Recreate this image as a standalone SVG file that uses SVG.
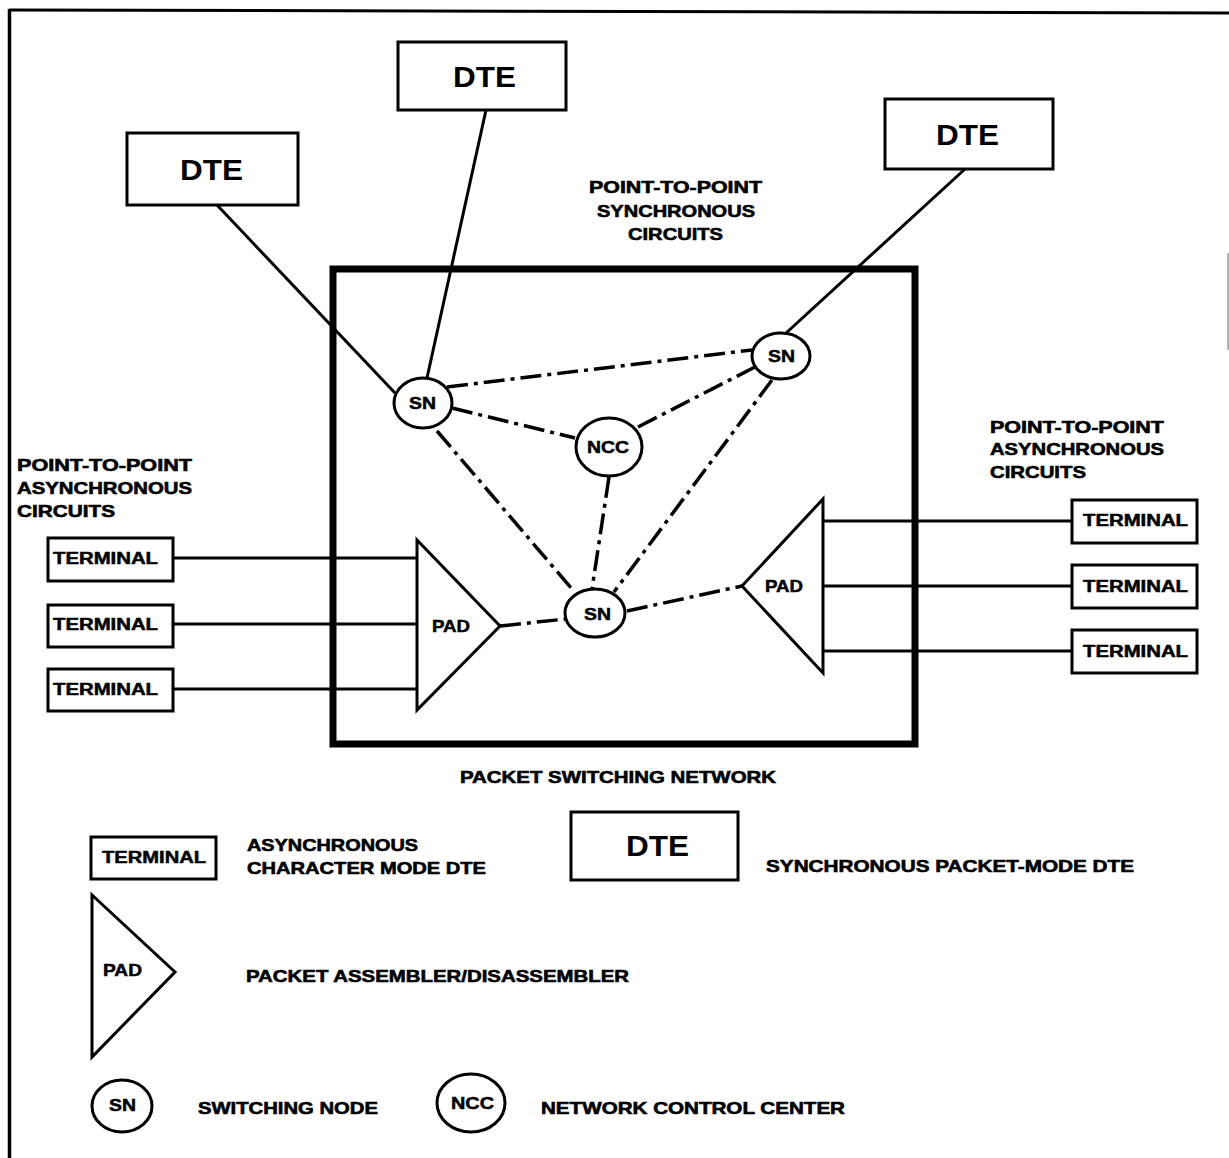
<svg xmlns="http://www.w3.org/2000/svg" width="1229" height="1158" viewBox="0 0 1229 1158">
  <style>
    .box { fill: #fff; stroke: #000; stroke-width: 3; }
    .shape { fill: #fff; stroke: #000; stroke-width: 3; stroke-linejoin: miter; }
    .link { fill: none; stroke: #000; stroke-width: 3; }
    .dash { fill: none; stroke: #000; stroke-width: 3.5; stroke-dasharray: 21 6 4 6; }
    .lbl { font-family: "Liberation Sans", Arial, sans-serif; font-weight: bold; font-size: 17px; fill: #000; stroke: #000; stroke-width: 0.6; }
    .big { font-family: "Liberation Sans", Arial, sans-serif; font-weight: bold; font-size: 29px; fill: #000; }
    .sm { font-family: "Liberation Sans", Arial, sans-serif; font-weight: bold; font-size: 17px; fill: #000; stroke: #000; stroke-width: 0.5; }
    .term { font-family: "Liberation Sans", Arial, sans-serif; font-weight: bold; font-size: 16px; fill: #000; stroke: #000; stroke-width: 0.5; }
  </style>

  <rect x="0" y="0" width="1229" height="1158" fill="#fff"/>

  <!-- page frame -->
  <g id="frame">
    <line x1="9" y1="10" x2="1229" y2="13" stroke="#000" stroke-width="3"/>
    <line x1="9.5" y1="9" x2="9.5" y2="1158" stroke="#000" stroke-width="3.5"/>
    <line x1="1228" y1="253" x2="1228" y2="350" stroke="#999" stroke-width="1.5"/>
  </g>

  <!-- network boundary -->
  <g id="network">
    <rect x="333" y="269" width="582" height="475" fill="none" stroke="#000" stroke-width="7"/>
    <text class="lbl" x="460" y="783" textLength="316" lengthAdjust="spacingAndGlyphs">PACKET  SWITCHING NETWORK</text>
  </g>

  <!-- connectors -->
  <g id="connectors">
    <line class="link" x1="217" y1="205" x2="395" y2="393"/>
    <line class="link" x1="486" y1="110" x2="427" y2="378"/>
    <line class="link" x1="965" y1="169" x2="785" y2="334"/>
    <line class="link" x1="173" y1="558" x2="418" y2="558"/>
    <line class="link" x1="173" y1="624" x2="418" y2="624"/>
    <line class="link" x1="173" y1="689" x2="418" y2="689"/>
    <line class="link" x1="823" y1="521" x2="1072" y2="521"/>
    <line class="link" x1="823" y1="586" x2="1072" y2="586"/>
    <line class="link" x1="823" y1="651" x2="1072" y2="651"/>
    <line class="dash" x1="447" y1="387" x2="752" y2="350"/>
    <line class="dash" x1="452" y1="408" x2="575" y2="438"/>
    <line class="dash" x1="437" y1="431" x2="572" y2="589"/>
    <line class="dash" x1="638" y1="427" x2="757" y2="366"/>
    <line class="dash" x1="609" y1="477" x2="592" y2="589"/>
    <line class="dash" x1="772" y1="380" x2="614" y2="592"/>
    <line class="dash" x1="627" y1="611" x2="742" y2="586"/>
    <line class="dash" x1="500" y1="626" x2="566" y2="619"/>
  </g>

  <!-- free labels -->
  <g id="labels">
    <text class="lbl" x="17" y="471" textLength="175" lengthAdjust="spacingAndGlyphs">POINT-TO-POINT</text>
    <text class="lbl" x="17" y="494" textLength="175" lengthAdjust="spacingAndGlyphs">ASYNCHRONOUS</text>
    <text class="lbl" x="17" y="517" textLength="98" lengthAdjust="spacingAndGlyphs">CIRCUITS</text>
    <text class="lbl" x="990" y="433" textLength="174" lengthAdjust="spacingAndGlyphs">POINT-TO-POINT</text>
    <text class="lbl" x="990" y="455" textLength="174" lengthAdjust="spacingAndGlyphs">ASYNCHRONOUS</text>
    <text class="lbl" x="990" y="478" textLength="96" lengthAdjust="spacingAndGlyphs">CIRCUITS</text>
    <text class="lbl" x="589" y="193" textLength="173" lengthAdjust="spacingAndGlyphs">POINT-TO-POINT</text>
    <text class="lbl" x="597" y="217" textLength="158" lengthAdjust="spacingAndGlyphs">SYNCHRONOUS</text>
    <text class="lbl" x="628" y="240" textLength="95" lengthAdjust="spacingAndGlyphs">CIRCUITS</text>
  </g>

  <!-- DTE hosts -->
  <g id="dte1">
    <rect class="box" x="127" y="133" width="171" height="72"/>
    <text class="big" x="180" y="180" textLength="63" lengthAdjust="spacingAndGlyphs">DTE</text>
  </g>
  <g id="dte2">
    <rect class="box" x="398" y="42" width="168" height="68"/>
    <text class="big" x="453" y="87" textLength="63" lengthAdjust="spacingAndGlyphs">DTE</text>
  </g>
  <g id="dte3">
    <rect class="box" x="885" y="99" width="168" height="70"/>
    <text class="big" x="936" y="145" textLength="63" lengthAdjust="spacingAndGlyphs">DTE</text>
  </g>

  <!-- switching nodes and control center -->
  <g id="sn1">
    <ellipse class="shape" cx="423" cy="403" rx="29" ry="25"/>
    <text class="sm" x="409" y="409" textLength="27" lengthAdjust="spacingAndGlyphs">SN</text>
  </g>
  <g id="sn2">
    <ellipse class="shape" cx="781" cy="356" rx="29" ry="23"/>
    <text class="sm" x="768" y="362" textLength="27" lengthAdjust="spacingAndGlyphs">SN</text>
  </g>
  <g id="sn3">
    <ellipse class="shape" cx="595" cy="613" rx="30" ry="24"/>
    <text class="sm" x="584" y="620" textLength="27" lengthAdjust="spacingAndGlyphs">SN</text>
  </g>
  <g id="ncc">
    <ellipse class="shape" cx="609" cy="447" rx="33" ry="29"/>
    <text class="sm" x="587" y="453" textLength="42" lengthAdjust="spacingAndGlyphs">NCC</text>
  </g>

  <!-- packet assemblers -->
  <g id="pad-left">
    <polygon class="shape" points="417,540 500,626 417,710"/>
    <text class="sm" x="432" y="632" textLength="38" lengthAdjust="spacingAndGlyphs">PAD</text>
  </g>
  <g id="pad-right">
    <polygon class="shape" points="823,499 742,586 823,673"/>
    <text class="sm" x="765" y="592" textLength="38" lengthAdjust="spacingAndGlyphs">PAD</text>
  </g>

  <!-- terminals -->
  <g id="term-l1">
    <rect class="box" x="48" y="538" width="125" height="43"/>
    <text class="term" x="53" y="564" textLength="105" lengthAdjust="spacingAndGlyphs">TERMINAL</text>
  </g>
  <g id="term-l2">
    <rect class="box" x="48" y="605" width="125" height="42"/>
    <text class="term" x="53" y="630" textLength="105" lengthAdjust="spacingAndGlyphs">TERMINAL</text>
  </g>
  <g id="term-l3">
    <rect class="box" x="48" y="669" width="125" height="42"/>
    <text class="term" x="53" y="695" textLength="105" lengthAdjust="spacingAndGlyphs">TERMINAL</text>
  </g>
  <g id="term-r1">
    <rect class="box" x="1072" y="500" width="125" height="43"/>
    <text class="term" x="1083" y="526" textLength="105" lengthAdjust="spacingAndGlyphs">TERMINAL</text>
  </g>
  <g id="term-r2">
    <rect class="box" x="1072" y="565" width="125" height="43"/>
    <text class="term" x="1083" y="592" textLength="105" lengthAdjust="spacingAndGlyphs">TERMINAL</text>
  </g>
  <g id="term-r3">
    <rect class="box" x="1072" y="630" width="125" height="43"/>
    <text class="term" x="1083" y="657" textLength="105" lengthAdjust="spacingAndGlyphs">TERMINAL</text>
  </g>

  <!-- key -->
  <g id="legend">
    <rect class="box" x="91" y="837" width="125" height="42"/>
    <text class="term" x="102" y="863" textLength="104" lengthAdjust="spacingAndGlyphs">TERMINAL</text>
    <text class="lbl" x="247" y="851" textLength="171" lengthAdjust="spacingAndGlyphs">ASYNCHRONOUS</text>
    <text class="lbl" x="247" y="874" textLength="239" lengthAdjust="spacingAndGlyphs">CHARACTER MODE DTE</text>

    <rect class="box" x="571" y="812" width="167" height="68"/>
    <text class="big" x="626" y="856" textLength="63" lengthAdjust="spacingAndGlyphs">DTE</text>
    <text class="lbl" x="766" y="872" textLength="368" lengthAdjust="spacingAndGlyphs">SYNCHRONOUS PACKET-MODE DTE</text>

    <polygon class="shape" points="92,895 175,972 92,1057"/>
    <text class="sm" x="103" y="976" textLength="39" lengthAdjust="spacingAndGlyphs">PAD</text>
    <text class="lbl" x="246" y="982" textLength="383" lengthAdjust="spacingAndGlyphs">PACKET ASSEMBLER/DISASSEMBLER</text>

    <ellipse class="shape" cx="122" cy="1106" rx="30" ry="26"/>
    <text class="sm" x="109" y="1111" textLength="27" lengthAdjust="spacingAndGlyphs">SN</text>
    <text class="lbl" x="198" y="1114" textLength="180" lengthAdjust="spacingAndGlyphs">SWITCHING NODE</text>

    <ellipse class="shape" cx="471" cy="1103" rx="34" ry="29"/>
    <text class="sm" x="451" y="1109" textLength="43" lengthAdjust="spacingAndGlyphs">NCC</text>
    <text class="lbl" x="541" y="1114" textLength="304" lengthAdjust="spacingAndGlyphs">NETWORK CONTROL CENTER</text>
  </g>
</svg>
